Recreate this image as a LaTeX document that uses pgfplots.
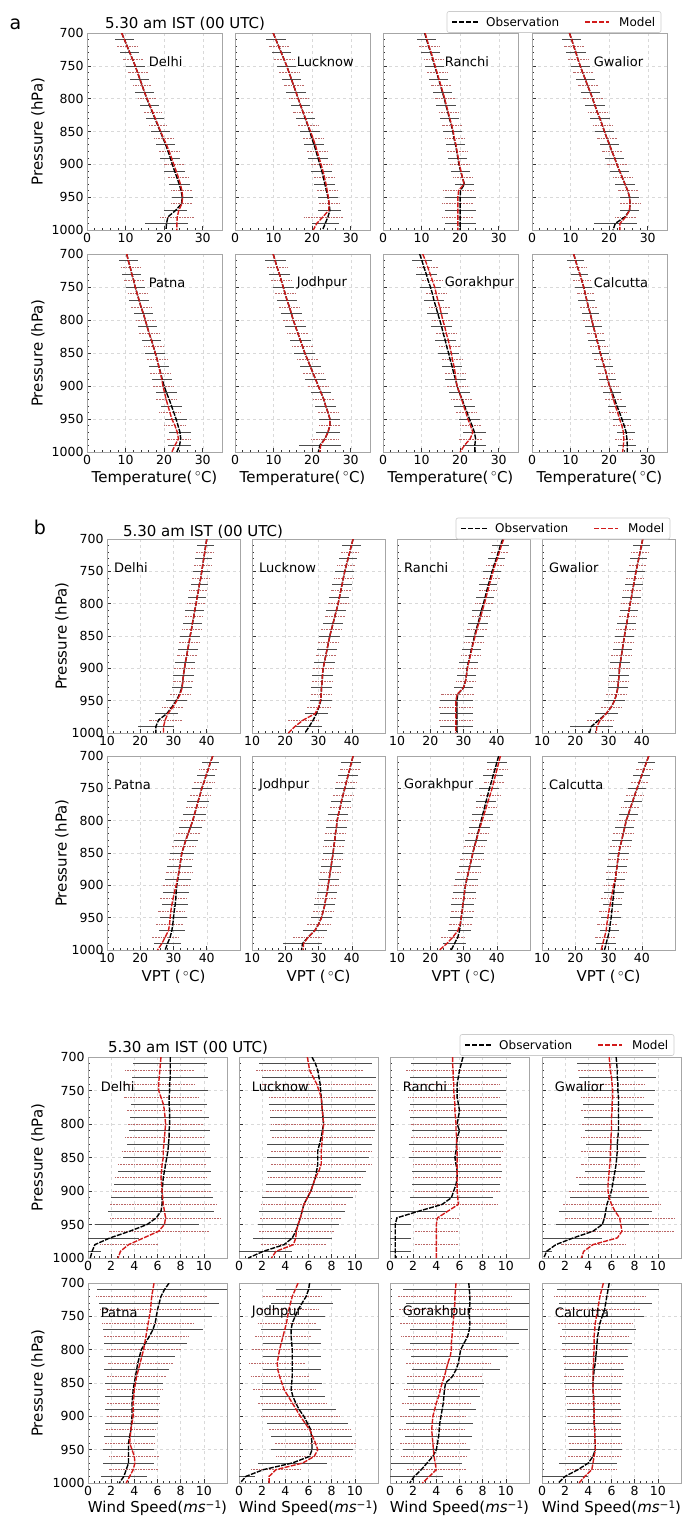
\documentclass[border=0pt]{standalone}
\usepackage{fontspec}
\setmainfont{DejaVu Sans}
\usepackage{pgfplots}
\usepackage{pgfplotstable}
\pgfplotsset{compat=1.18}
\definecolor{mred}{HTML}{D21A1A}

% ---------------- Temperature ----------------
\pgfplotstableread{
p o oe m me
700 9.0 2.5 9.0 2.5
710 9.7 2.5 9.7 2.5
720 10.4 2.5 10.4 2.5
730 11.1 2.5 11.1 2.5
740 11.8 2.5 11.8 2.5
750 12.5 2.5 12.5 2.5
760 13.1 2.5 13.1 2.5
770 13.7 2.5 13.7 2.5
780 14.3 2.4 14.3 2.4
790 14.9 2.4 14.9 2.4
800 15.5 2.4 15.6 2.4
810 16.2 2.4 16.3 2.4
820 16.9 2.4 17.0 2.4
830 17.6 2.4 17.7 2.4
840 18.3 2.4 18.4 2.4
850 19.0 2.5 19.1 2.5
860 19.7 2.5 19.8 2.5
870 20.4 2.5 20.6 2.5
880 21.0 2.6 21.3 2.6
890 21.6 2.6 21.9 2.6
900 22.1 2.6 22.5 2.6
910 22.7 2.7 23.1 2.7
920 23.3 2.7 23.7 2.7
930 23.9 2.7 24.2 2.7
940 24.4 2.7 24.6 2.7
950 24.7 2.7 24.8 2.7
960 24.5 2.8 24.6 2.8
970 23.0 3.0 23.8 3.5
980 21.0 5.5 23.4 4.5
990 20.6 5.5 23.3 4.5
1000 20.5 5.0 23.3 4.5
}\taDel
\pgfplotstableread{
p o oe m me
700 9.9 2.5 9.9 2.5
710 10.6 2.5 10.6 2.5
720 11.3 2.5 11.3 2.5
730 12.0 2.5 12.0 2.5
740 12.7 2.5 12.7 2.5
750 13.4 2.5 13.4 2.5
760 14.0 2.5 14.0 2.5
770 14.6 2.5 14.6 2.5
780 15.2 2.5 15.2 2.5
790 15.8 2.5 15.8 2.5
800 16.4 2.5 16.4 2.5
810 17.0 2.5 17.0 2.5
820 17.6 2.5 17.6 2.5
830 18.2 2.5 18.3 2.5
840 18.8 2.5 18.9 2.5
850 19.4 2.6 19.6 2.6
860 19.9 2.6 20.2 2.6
870 20.5 2.6 20.8 2.6
880 21.0 2.6 21.3 2.6
890 21.5 2.6 21.8 2.6
900 22.0 2.7 22.3 2.7
910 22.5 2.7 22.8 2.7
920 22.9 2.7 23.2 2.7
930 23.3 2.7 23.6 2.7
940 23.7 2.7 23.9 2.7
950 24.1 2.7 24.2 2.7
960 24.4 2.8 24.4 2.8
970 24.6 3.0 24.3 3.2
980 24.1 3.5 22.8 5.0
990 23.4 3.5 21.2 5.0
1000 22.7 3.5 20.3 4.5
}\taLuc
\pgfplotstableread{
p o oe m me
700 10.8 2.5 10.9 2.5
710 11.3 2.5 11.4 2.5
720 11.8 2.5 11.9 2.5
730 12.4 2.5 12.5 2.5
740 12.9 2.5 13.0 2.5
750 13.4 2.5 13.5 2.5
760 13.9 2.5 14.0 2.5
770 14.4 2.5 14.5 2.5
780 14.9 2.5 15.0 2.5
790 15.4 2.5 15.5 2.5
800 15.9 2.5 16.0 2.5
810 16.3 2.5 16.4 2.5
820 16.8 2.5 16.9 2.5
830 17.2 2.5 17.3 2.5
840 17.7 2.5 17.8 2.5
850 18.1 2.5 18.2 2.5
860 18.4 2.5 18.5 2.5
870 18.8 2.5 18.9 2.5
880 19.1 2.5 19.2 2.5
890 19.4 2.5 19.5 2.5
900 19.7 2.5 19.8 2.5
910 20.1 2.5 20.2 2.5
920 20.6 2.5 20.6 2.5
930 21.1 2.5 21.0 2.5
940 20.1 4.0 19.6 4.0
950 20.0 4.0 19.4 4.0
960 20.0 4.0 19.4 4.0
970 20.0 4.0 19.4 4.0
980 20.0 4.0 19.4 4.0
990 20.0 4.0 19.4 4.0
1000 20.0 4.0 19.4 4.0
}\taRan
\pgfplotstableread{
p o oe m me
700 9.7 2.5 9.7 2.5
710 10.3 2.5 10.3 2.5
720 10.8 2.5 10.8 2.5
730 11.4 2.5 11.4 2.5
740 11.9 2.5 11.9 2.5
750 12.5 2.5 12.5 2.5
760 13.1 2.5 13.1 2.5
770 13.8 2.5 13.8 2.5
780 14.4 2.5 14.4 2.5
790 15.1 2.5 15.1 2.5
800 15.7 2.5 15.7 2.5
810 16.3 2.5 16.3 2.5
820 16.9 2.5 16.9 2.5
830 17.6 2.5 17.6 2.5
840 18.2 2.5 18.2 2.5
850 18.8 2.5 18.8 2.5
860 19.4 2.5 19.4 2.5
870 20.1 2.5 20.1 2.5
880 20.7 2.5 20.7 2.5
890 21.4 2.5 21.4 2.5
900 22.0 2.5 22.0 2.5
910 22.7 2.5 22.7 2.5
920 23.4 2.5 23.4 2.5
930 24.1 2.5 24.1 2.5
940 24.8 2.5 24.8 2.5
950 25.3 2.5 25.3 2.5
960 25.4 2.5 25.4 2.5
970 25.3 2.5 25.3 2.5
980 24.1 3.0 24.3 2.8
990 21.6 5.5 22.8 4.0
1000 21.0 5.0 22.8 4.0
}\taGwa
\pgfplotstableread{
p o oe m me
700 10.3 2.5 10.3 2.5
710 10.7 2.5 10.7 2.5
720 11.2 2.5 11.2 2.5
730 11.6 2.5 11.6 2.5
740 12.1 2.5 12.1 2.5
750 12.5 2.5 12.5 2.5
760 13.0 2.5 13.0 2.5
770 13.5 2.5 13.5 2.5
780 14.0 2.5 14.0 2.5
790 14.6 2.5 14.6 2.5
800 15.1 2.5 15.1 2.5
810 15.6 2.5 15.6 2.5
820 16.1 2.5 16.1 2.5
830 16.7 2.5 16.7 2.5
840 17.2 2.5 17.2 2.5
850 17.7 2.6 17.7 2.6
860 18.2 2.6 18.2 2.6
870 18.6 2.6 18.6 2.6
880 19.1 2.6 19.0 2.6
890 19.5 2.6 19.4 2.6
900 20.0 2.7 19.7 2.7
910 20.6 2.7 20.1 2.7
920 21.3 2.7 20.5 2.7
930 21.9 2.8 21.0 2.8
940 22.5 2.8 21.5 2.8
950 23.1 2.8 22.0 2.8
960 23.6 2.9 22.8 2.9
970 24.1 2.9 23.4 2.9
980 24.3 3.0 23.7 3.0
990 24.0 3.0 22.8 3.2
1000 23.3 3.0 22.0 3.2
}\taPat
\pgfplotstableread{
p o oe m me
700 9.9 2.7 9.9 2.7
710 10.4 2.7 10.4 2.7
720 10.9 2.7 10.9 2.7
730 11.5 2.7 11.5 2.7
740 12.0 2.7 12.0 2.7
750 12.5 2.7 12.5 2.7
760 13.0 2.7 13.0 2.7
770 13.5 2.7 13.5 2.7
780 14.1 2.7 14.1 2.7
790 14.6 2.7 14.6 2.7
800 15.1 2.7 15.1 2.7
810 15.7 2.7 15.7 2.7
820 16.3 2.7 16.3 2.7
830 16.9 2.7 16.9 2.7
840 17.5 2.7 17.5 2.7
850 18.1 2.7 18.1 2.7
860 18.8 2.7 18.8 2.7
870 19.5 2.7 19.5 2.7
880 20.2 2.7 20.2 2.7
890 20.9 2.7 20.9 2.7
900 21.6 2.7 21.6 2.7
910 22.3 2.7 22.3 2.7
920 23.0 2.7 23.0 2.7
930 23.5 2.7 23.5 2.7
940 24.1 2.7 24.1 2.7
950 24.6 2.7 24.6 2.7
960 24.6 2.7 24.6 2.7
970 24.1 3.0 24.1 3.0
980 23.3 3.5 23.3 3.5
990 22.0 5.5 22.2 4.5
1000 21.6 5.0 22.0 4.5
}\taJod
\pgfplotstableread{
p o oe m me
700 9.5 2.7 10.3 2.7
710 10.1 2.7 11.0 2.7
720 10.6 2.7 11.6 2.7
730 11.2 2.7 12.2 2.7
740 11.7 2.7 12.8 2.7
750 12.3 2.7 13.4 2.7
760 12.8 2.7 13.8 2.7
770 13.2 2.7 14.2 2.7
780 13.7 2.7 14.7 2.7
790 14.2 2.7 15.1 2.7
800 14.7 2.7 15.5 2.7
810 15.2 2.7 16.0 2.7
820 15.6 2.7 16.4 2.7
830 16.1 2.7 16.9 2.7
840 16.5 2.7 17.3 2.7
850 17.0 2.7 17.7 2.7
860 17.4 2.7 18.0 2.7
870 17.9 2.7 18.4 2.7
880 18.3 2.7 18.7 2.7
890 18.8 2.7 18.9 2.7
900 19.2 2.7 19.2 2.7
910 19.8 2.7 19.8 2.7
920 20.5 2.7 20.4 2.7
930 21.1 2.7 20.9 2.7
940 21.8 2.7 21.5 2.7
950 22.4 2.8 22.0 2.8
960 23.1 2.9 22.7 2.9
970 23.7 3.0 23.3 3.0
980 24.0 3.0 22.6 3.0
990 23.8 3.0 21.1 3.0
1000 23.8 3.0 20.0 3.0
}\taGor
\pgfplotstableread{
p o oe m me
700 10.8 2.2 10.8 2.2
710 11.3 2.2 11.3 2.2
720 11.8 2.2 11.8 2.2
730 12.4 2.2 12.4 2.2
740 12.9 2.2 12.9 2.2
750 13.4 2.2 13.4 2.2
760 13.8 2.2 13.8 2.2
770 14.2 2.2 14.2 2.2
780 14.6 2.2 14.6 2.2
790 15.1 2.2 15.1 2.2
800 15.5 2.2 15.5 2.2
810 15.9 2.2 15.9 2.2
820 16.4 2.2 16.4 2.2
830 16.8 2.2 16.8 2.2
840 17.3 2.2 17.3 2.2
850 17.7 2.2 17.7 2.2
860 18.2 2.2 18.2 2.2
870 18.7 2.2 18.7 2.2
880 19.2 2.2 19.2 2.2
890 19.6 2.2 19.6 2.2
900 20.1 2.3 20.1 2.3
910 20.8 2.3 20.6 2.3
920 21.4 2.3 21.1 2.3
930 22.0 2.3 21.6 2.3
940 22.7 2.3 22.2 2.3
950 23.3 2.3 22.7 2.3
960 23.9 2.3 23.3 2.3
970 24.4 2.3 23.7 2.3
980 24.6 2.3 23.8 2.3
990 24.7 2.3 23.7 2.3
1000 24.7 2.3 23.5 2.3
}\taCal

% ---------------- VPT ----------------
\pgfplotstableread{
p o oe m me
700 40.0 2.5 40.0 2.5
710 39.7 2.5 39.7 2.5
720 39.4 2.5 39.4 2.5
730 39.1 2.5 39.1 2.5
740 38.8 2.5 38.8 2.5
750 38.5 2.6 38.5 2.6
760 38.2 2.6 38.2 2.6
770 37.8 2.6 37.8 2.6
780 37.5 2.7 37.5 2.7
790 37.1 2.7 37.1 2.7
800 36.8 2.7 36.8 2.7
810 36.4 2.8 36.4 2.8
820 36.1 2.8 36.1 2.8
830 35.7 2.8 35.7 2.8
840 35.4 2.9 35.4 2.9
850 35.0 2.9 35.0 2.9
860 34.7 2.9 34.7 2.9
870 34.3 3.0 34.3 3.0
880 34.0 3.0 34.0 3.0
890 33.6 3.0 33.6 3.0
900 33.3 3.1 33.3 3.1
910 33.0 3.1 33.0 3.1
920 32.8 3.1 32.8 3.1
930 32.5 3.1 32.6 3.1
940 31.8 3.2 32.0 3.2
950 30.8 3.2 31.0 3.2
960 29.5 3.3 29.8 3.3
970 28.0 3.5 28.3 3.5
980 25.5 5.5 27.5 5.0
990 24.7 5.5 27.0 5.0
1000 24.7 5.0 27.0 4.5
}\tbDel
\pgfplotstableread{
p o oe m me
700 40.4 2.8 40.4 2.8
710 39.9 2.8 39.9 2.8
720 39.4 2.8 39.4 2.8
730 38.9 2.8 38.9 2.8
740 38.4 2.8 38.4 2.8
750 37.9 2.9 37.9 2.9
760 37.5 2.9 37.5 2.9
770 37.1 2.9 37.1 2.9
780 36.7 2.9 36.7 2.9
790 36.3 3.0 36.3 3.0
800 35.9 3.0 35.9 3.0
810 35.4 3.0 35.4 3.0
820 34.9 3.0 34.9 3.0
830 34.4 3.0 34.4 3.0
840 33.9 3.0 33.9 3.0
850 33.4 3.1 33.4 3.1
860 33.0 3.1 33.0 3.1
870 32.6 3.1 32.6 3.1
880 32.2 3.1 32.2 3.1
890 31.8 3.2 31.8 3.2
900 31.4 3.2 31.4 3.2
910 31.2 3.2 31.2 3.2
920 31.1 3.2 31.1 3.2
930 30.9 3.3 30.9 3.3
940 30.8 3.3 30.8 3.3
950 30.7 3.3 30.6 3.3
960 30.1 3.4 30.0 3.4
970 29.4 3.5 29.0 3.8
980 28.4 3.8 25.4 4.5
990 27.2 4.0 22.9 4.5
1000 25.9 4.0 20.9 4.5
}\tbLuc
\pgfplotstableread{
p o oe m me
700 41.8 2.5 42.1 2.5
710 41.1 2.5 41.4 2.5
720 40.5 2.5 40.8 2.5
730 39.9 2.5 40.2 2.5
740 39.2 2.6 39.5 2.6
750 38.6 2.6 38.9 2.6
760 38.1 2.6 38.4 2.6
770 37.5 2.7 37.8 2.7
780 37.0 2.7 37.3 2.7
790 36.5 2.7 36.8 2.7
800 36.0 2.8 36.3 2.8
810 35.4 2.8 35.7 2.8
820 34.9 2.8 35.2 2.8
830 34.4 2.9 34.6 2.9
840 33.8 2.9 34.0 2.9
850 33.3 2.9 33.5 2.9
860 32.9 3.0 33.0 3.0
870 32.4 3.0 32.5 3.0
880 32.0 3.0 32.1 3.0
890 31.5 3.0 31.6 3.0
900 31.1 3.0 31.2 3.0
910 30.9 3.0 30.9 3.0
920 30.6 3.0 30.6 3.0
930 30.0 3.0 30.0 3.0
940 28.3 5.0 28.1 5.0
950 28.0 5.0 27.7 5.0
960 28.0 5.0 27.7 5.0
970 28.0 5.0 27.7 5.0
980 28.0 5.0 27.7 5.0
990 28.0 5.0 27.7 5.0
1000 28.0 5.0 27.7 5.0
}\tbRan
\pgfplotstableread{
p o oe m me
700 40.3 2.6 40.3 2.6
710 39.9 2.6 39.9 2.6
720 39.5 2.6 39.5 2.6
730 39.1 2.6 39.1 2.6
740 38.7 2.6 38.7 2.6
750 38.3 2.7 38.3 2.7
760 37.9 2.7 37.9 2.7
770 37.6 2.7 37.6 2.7
780 37.2 2.7 37.2 2.7
790 36.9 2.8 36.9 2.8
800 36.5 2.8 36.5 2.8
810 36.2 2.8 36.2 2.8
820 35.8 2.8 35.8 2.8
830 35.5 2.8 35.5 2.8
840 35.1 2.9 35.1 2.9
850 34.8 2.9 34.8 2.9
860 34.5 2.9 34.5 2.9
870 34.2 2.9 34.2 2.9
880 33.9 3.0 33.9 3.0
890 33.6 3.0 33.6 3.0
900 33.3 3.0 33.3 3.0
910 33.2 3.0 33.2 3.0
920 33.0 3.1 33.0 3.1
930 32.8 3.1 32.8 3.1
940 32.4 3.1 32.4 3.1
950 31.8 3.2 31.8 3.2
960 30.8 3.3 30.8 3.3
970 29.3 3.5 29.3 3.5
980 27.1 4.5 27.5 4.0
990 24.8 6.5 26.5 5.0
1000 24.3 6.0 26.3 5.0
}\tbGwa
\pgfplotstableread{
p o oe m me
700 41.8 2.5 41.8 2.5
710 41.1 2.6 41.1 2.6
720 40.5 2.7 40.5 2.7
730 39.8 2.8 39.8 2.8
740 39.2 2.9 39.2 2.9
750 38.5 3.0 38.5 3.0
760 38.0 3.1 38.0 3.1
770 37.4 3.2 37.4 3.2
780 36.9 3.3 36.9 3.3
790 36.3 3.4 36.3 3.4
800 35.8 3.5 35.8 3.5
810 35.1 3.5 35.1 3.5
820 34.4 3.6 34.4 3.6
830 33.7 3.6 33.7 3.6
840 33.1 3.7 33.1 3.7
850 32.5 3.7 32.5 3.7
860 32.2 3.8 32.2 3.8
870 31.9 3.8 31.9 3.8
880 31.6 3.9 31.6 3.9
890 31.3 3.9 31.2 3.9
900 31.0 4.0 30.8 4.0
910 30.8 4.0 30.3 4.0
920 30.7 4.0 29.9 4.0
930 30.5 4.0 29.5 4.0
940 30.2 4.0 29.2 4.0
950 30.0 4.0 29.0 4.0
960 29.8 4.0 28.8 4.0
970 29.5 4.0 28.5 4.0
980 29.0 4.0 27.5 4.0
990 28.2 4.0 26.5 4.0
1000 27.5 4.0 25.2 4.0
}\tbPat
\pgfplotstableread{
p o oe m me
700 40.4 3.0 40.4 3.0
710 39.9 3.0 39.9 3.0
720 39.4 3.0 39.4 3.0
730 38.9 3.0 38.9 3.0
740 38.4 3.0 38.4 3.0
750 37.9 3.0 37.9 3.0
760 37.4 3.0 37.4 3.0
770 36.9 3.0 36.9 3.0
780 36.5 3.0 36.5 3.0
790 36.0 3.0 36.0 3.0
800 35.6 3.1 35.6 3.1
810 35.4 3.1 35.4 3.1
820 35.1 3.1 35.1 3.1
830 34.9 3.1 34.9 3.1
840 34.6 3.1 34.6 3.1
850 34.4 3.1 34.4 3.1
860 34.1 3.1 34.1 3.1
870 33.8 3.1 33.8 3.1
880 33.5 3.1 33.5 3.1
890 33.2 3.1 33.2 3.1
900 32.9 3.1 32.9 3.1
910 32.6 3.1 32.6 3.1
920 32.2 3.2 32.2 3.2
930 31.9 3.2 31.9 3.2
940 31.4 3.2 31.4 3.2
950 30.9 3.3 30.9 3.3
960 30.0 3.4 30.0 3.4
970 28.9 3.6 28.9 3.6
980 26.9 4.5 26.9 4.5
990 25.2 6.0 25.5 5.5
1000 24.9 6.0 25.4 5.5
}\tbJod
\pgfplotstableread{
p o oe m me
700 40.6 3.0 41.1 3.0
710 40.0 3.0 40.6 3.0
720 39.5 3.0 40.1 3.0
730 38.9 3.0 39.6 3.0
740 38.4 3.0 39.1 3.0
750 37.8 3.0 38.6 3.0
760 37.3 3.1 38.0 3.1
770 36.8 3.1 37.4 3.1
780 36.3 3.1 36.8 3.1
790 35.8 3.2 36.2 3.2
800 35.3 3.2 35.6 3.2
810 34.8 3.2 35.0 3.2
820 34.3 3.3 34.4 3.3
830 33.8 3.3 33.9 3.3
840 33.3 3.3 33.3 3.3
850 32.8 3.4 32.8 3.4
860 32.4 3.4 32.4 3.4
870 31.9 3.4 31.9 3.4
880 31.5 3.4 31.5 3.4
890 31.0 3.5 31.0 3.5
900 30.6 3.5 30.6 3.5
910 30.3 3.5 30.3 3.5
920 30.1 3.5 30.1 3.5
930 29.8 3.5 29.8 3.5
940 29.6 3.5 29.6 3.5
950 29.3 3.5 29.3 3.5
960 29.1 3.5 29.0 3.5
970 28.8 3.5 28.3 3.6
980 28.3 3.5 26.8 3.8
990 27.3 3.5 25.0 4.0
1000 26.3 3.5 22.8 4.0
}\tbGor
\pgfplotstableread{
p o oe m me
700 42.1 2.5 42.1 2.5
710 41.4 2.5 41.4 2.5
720 40.7 2.5 40.7 2.5
730 40.0 2.5 40.0 2.5
740 39.3 2.6 39.3 2.6
750 38.6 2.6 38.6 2.6
760 37.9 2.6 37.9 2.6
770 37.3 2.7 37.3 2.7
780 36.6 2.7 36.6 2.7
790 36.0 2.8 36.0 2.8
800 35.3 2.8 35.3 2.8
810 34.9 2.9 34.9 2.9
820 34.4 2.9 34.4 2.9
830 34.0 3.0 34.0 3.0
840 33.5 3.0 33.5 3.0
850 33.1 3.0 33.1 3.0
860 32.8 3.0 32.8 3.0
870 32.6 3.0 32.6 3.0
880 32.3 3.0 32.3 3.0
890 32.1 3.0 32.1 3.0
900 31.8 3.0 31.5 3.0
910 31.6 3.0 31.2 3.0
920 31.4 3.0 30.8 3.0
930 31.2 3.0 30.5 3.0
940 31.0 3.0 30.1 3.0
950 30.8 3.0 29.8 3.0
960 30.5 3.0 29.5 3.0
970 30.3 3.0 29.3 3.0
980 29.8 3.0 28.8 3.0
990 29.3 3.0 28.3 3.0
1000 28.8 3.0 27.8 3.0
}\tbCal

% ---------------- Wind speed ----------------
\pgfplotstableread{
p o oe m me
700 7.1 3.2 6.3 3.0
710 7.1 3.2 6.25 3.0
720 7.1 3.2 6.2 3.0
730 7.1 3.3 6.15 3.1
740 7.05 3.3 6.1 3.1
750 7.05 3.3 6.1 3.1
760 7.0 3.3 6.3 3.2
770 7.0 3.3 6.5 3.2
780 7.05 3.4 6.6 3.3
790 7.05 3.4 6.65 3.3
800 7.05 3.4 6.7 3.3
810 7.0 3.5 6.65 3.4
820 7.0 3.5 6.6 3.4
830 6.95 3.6 6.55 3.5
840 6.9 3.7 6.5 3.6
850 6.8 3.8 6.5 3.7
860 6.7 3.9 6.4 3.8
870 6.6 4.0 6.35 3.9
880 6.5 4.1 6.3 4.0
890 6.45 4.2 6.35 4.1
900 6.4 4.3 6.4 4.2
910 6.4 4.4 6.45 4.4
920 6.4 4.5 6.5 4.6
930 6.3 4.6 6.6 4.8
940 5.9 4.6 6.7 4.8
950 5.1 4.5 6.6 4.6
960 3.6 3.8 6.1 4.3
970 1.9 2.5 4.8 3.8
980 0.6 1.2 3.5 2.5
990 0.35 0.8 2.8 1.5
1000 0.2 0.5 2.6 1.2
}\tcDel
\pgfplotstableread{
p o oe m me
700 6.3 4.8 5.9 4.5
710 6.6 4.9 6.0 4.6
720 6.8 4.9 6.1 4.6
730 6.9 4.9 6.4 4.7
740 7.0 4.9 6.7 4.7
750 7.05 4.8 6.9 4.6
760 7.1 4.7 7.1 4.5
770 7.15 4.6 7.15 4.5
780 7.2 4.6 7.2 4.5
790 7.25 4.6 7.25 4.5
800 7.3 4.6 7.3 4.5
810 7.2 4.5 7.25 4.4
820 7.1 4.5 7.2 4.4
830 6.95 4.5 7.15 4.4
840 6.8 4.4 7.1 4.3
850 6.8 4.4 7.1 4.3
860 6.8 4.3 7.1 4.3
870 6.7 4.3 6.9 4.2
880 6.6 4.2 6.6 4.1
890 6.4 4.1 6.4 4.0
900 6.2 4.0 6.2 3.9
910 5.9 3.9 5.9 3.8
920 5.6 3.8 5.6 3.7
930 5.45 3.7 5.45 3.6
940 5.3 3.6 5.3 3.5
950 5.1 3.5 5.1 3.4
960 4.9 3.4 4.95 3.3
970 4.6 3.4 4.9 3.2
980 3.9 3.2 4.7 2.8
990 2.1 2.5 3.2 2.0
1000 0.8 1.0 2.8 1.0
}\tcLuc
\pgfplotstableread{
p o oe m me
700 6.3 4.3 5.4 4.1
710 6.15 4.3 5.4 4.1
720 6.0 4.3 5.45 4.1
730 5.9 4.2 5.45 4.0
740 5.8 4.2 5.5 4.0
750 5.8 4.2 5.5 4.0
760 5.8 4.2 5.55 4.0
770 5.9 4.2 5.6 4.0
780 6.0 4.2 5.6 4.0
790 5.9 4.2 5.65 4.0
800 5.8 4.1 5.7 3.9
810 6.0 4.1 5.7 3.9
820 5.8 4.1 5.75 3.9
830 5.75 4.1 5.75 3.9
840 5.7 4.0 5.8 3.9
850 5.6 4.0 5.8 3.9
860 5.7 4.0 5.8 3.8
870 5.8 3.9 5.8 3.8
880 5.8 3.9 5.8 3.8
890 5.7 3.8 5.8 3.7
900 5.5 3.8 5.8 3.7
910 5.3 3.6 5.85 3.6
920 4.5 3.0 5.9 3.4
930 2.5 2.5 5.0 2.8
940 0.6 1.4 4.1 1.8
950 0.45 1.4 4.0 1.8
960 0.45 1.4 4.0 1.8
970 0.45 1.4 4.0 1.8
980 0.45 1.4 4.0 1.8
990 0.45 1.4 4.0 1.8
1000 0.45 1.4 4.0 1.8
}\tcRan
\pgfplotstableread{
p o oe m me
700 6.4 3.4 5.8 2.8
710 6.45 3.4 5.85 2.8
720 6.5 3.4 5.9 2.8
730 6.5 3.3 6.0 2.8
740 6.55 3.3 6.05 2.8
750 6.55 3.2 6.1 2.7
760 6.6 3.2 6.1 2.7
770 6.6 3.1 6.05 2.7
780 6.6 3.1 6.05 2.7
790 6.6 3.0 6.0 2.6
800 6.6 3.0 6.0 2.6
810 6.6 2.9 6.0 2.6
820 6.55 2.8 5.95 2.6
830 6.5 2.7 5.95 2.5
840 6.5 2.6 5.9 2.5
850 6.45 2.5 5.9 2.5
860 6.4 2.5 5.85 2.5
870 6.3 2.6 5.8 2.6
880 6.2 2.7 5.75 2.8
890 6.1 2.9 5.7 3.1
900 6.0 3.1 5.7 3.4
910 5.8 3.4 5.8 3.8
920 5.6 3.7 6.0 4.2
930 5.5 4.0 6.3 4.5
940 5.4 4.0 6.7 4.7
950 5.2 4.0 6.8 4.8
960 4.4 3.5 6.9 4.5
970 2.7 2.5 6.5 3.8
980 1.2 1.2 4.4 2.8
990 0.4 0.5 3.6 1.5
1000 0.15 0.3 3.4 1.2
}\tcGwa
\pgfplotstableread{
p o oe m me
700 7.0 6.0 5.7 5.0
710 6.6 5.8 5.6 4.9
720 6.3 5.5 5.5 4.8
730 6.15 5.2 5.45 4.6
740 6.0 5.0 5.4 4.4
750 5.9 4.8 5.3 4.2
760 5.8 4.6 5.2 4.0
770 5.6 4.3 5.1 3.8
780 5.3 4.0 5.0 3.6
790 4.95 3.6 4.9 3.4
800 4.6 3.3 4.8 3.2
810 4.45 3.1 4.65 3.0
820 4.3 2.9 4.5 2.8
830 4.2 2.8 4.35 2.7
840 4.1 2.6 4.2 2.6
850 4.0 2.5 4.1 2.5
860 3.9 2.4 4.0 2.4
870 3.85 2.4 3.95 2.4
880 3.8 2.3 3.9 2.3
890 3.8 2.3 3.9 2.3
900 3.8 2.3 3.9 2.3
910 3.75 2.3 3.8 2.3
920 3.7 2.2 3.7 2.2
930 3.6 2.2 3.65 2.2
940 3.5 2.2 3.6 2.2
950 3.5 2.2 3.8 2.2
960 3.5 2.2 4.0 2.2
970 3.5 2.2 4.05 2.2
980 3.3 2.1 3.9 2.1
990 3.1 2.0 3.6 2.0
1000 2.7 1.8 3.3 1.8
}\tcPat
\pgfplotstableread{
p o oe m me
700 6.1 2.8 5.1 2.5
710 6.0 2.8 4.85 2.5
720 5.8 2.8 4.6 2.5
730 5.45 2.7 4.45 2.5
740 5.1 2.7 4.3 2.5
750 4.85 2.6 4.2 2.5
760 4.6 2.6 4.1 2.5
770 4.5 2.6 3.95 2.5
780 4.5 2.5 3.8 2.4
790 4.55 2.5 3.65 2.4
800 4.6 2.5 3.5 2.4
810 4.6 2.5 3.4 2.4
820 4.6 2.5 3.3 2.4
830 4.6 2.5 3.35 2.4
840 4.6 2.6 3.5 2.5
850 4.55 2.6 3.7 2.6
860 4.5 2.7 3.9 2.7
870 4.65 2.8 4.25 2.8
880 4.9 3.0 4.6 3.0
890 5.2 3.2 4.95 3.2
900 5.6 3.4 5.3 3.4
910 5.9 3.5 5.7 3.5
920 6.2 3.5 6.1 3.5
930 6.25 3.5 6.35 3.5
940 6.3 3.5 6.6 3.5
950 6.3 3.5 6.8 3.5
960 6.1 3.3 6.5 3.3
970 4.6 3.0 5.5 3.0
980 2.1 2.5 3.2 2.2
990 0.6 0.8 2.6 1.2
1000 0.1 0.3 2.6 1.2
}\tcJod
\pgfplotstableread{
p o oe m me
700 6.8 5.8 5.7 5.0
710 6.85 5.7 5.65 5.0
720 6.9 5.6 5.6 4.9
730 6.9 5.5 5.6 4.8
740 6.85 5.4 5.55 4.8
750 6.85 5.3 5.5 4.7
760 6.9 5.3 5.45 4.6
770 6.85 5.1 5.4 4.5
780 6.7 5.0 5.35 4.4
790 6.4 4.7 5.3 4.2
800 6.1 4.4 5.3 4.0
810 6.0 4.2 5.2 3.8
820 5.9 4.0 5.0 3.6
830 5.7 3.8 4.85 3.4
840 5.4 3.5 4.7 3.3
850 4.8 3.3 4.5 3.2
860 4.7 3.2 4.35 3.1
870 4.65 3.1 4.2 3.0
880 4.6 3.0 4.0 3.0
890 4.5 2.9 3.85 2.9
900 4.4 2.9 3.7 2.9
910 4.3 2.9 3.65 2.9
920 4.25 2.9 3.6 2.9
930 4.2 2.9 3.65 2.9
940 4.1 2.9 3.7 2.9
950 4.0 2.9 3.75 2.9
960 3.7 2.9 3.8 2.9
970 3.2 3.0 3.9 2.8
980 2.7 3.0 4.0 2.6
990 2.1 2.5 3.4 2.2
1000 1.7 2.0 2.8 2.0
}\tcGor
\pgfplotstableread{
p o oe m me
700 5.8 4.4 5.3 4.2
710 5.7 4.4 5.15 4.2
720 5.6 4.2 5.0 4.0
730 5.5 4.0 4.9 3.8
740 5.4 3.8 4.8 3.6
750 5.2 3.6 4.7 3.4
760 5.0 3.4 4.6 3.2
770 4.9 3.2 4.55 3.1
780 4.8 3.1 4.5 3.0
790 4.75 3.0 4.5 2.9
800 4.7 2.9 4.5 2.8
810 4.65 2.8 4.45 2.7
820 4.6 2.7 4.45 2.6
830 4.5 2.6 4.4 2.5
840 4.45 2.5 4.4 2.5
850 4.4 2.5 4.4 2.4
860 4.4 2.4 4.4 2.4
870 4.45 2.4 4.45 2.4
880 4.45 2.3 4.45 2.3
890 4.5 2.3 4.5 2.3
900 4.5 2.3 4.5 2.3
910 4.5 2.3 4.5 2.3
920 4.55 2.3 4.55 2.3
930 4.55 2.3 4.55 2.3
940 4.6 2.3 4.6 2.3
950 4.6 2.3 4.6 2.3
960 4.4 2.4 4.5 2.3
970 4.0 2.5 4.4 2.3
980 3.1 2.5 4.3 2.2
990 2.0 2.0 3.7 2.0
1000 1.4 1.5 3.2 1.8
}\tcCal

\tikzset{
  obsline/.style={draw=black, line width=1.4pt, dash pattern=on 5pt off 1.3pt},
  modline/.style={draw=mred, line width=1.4pt, dash pattern=on 5pt off 1.3pt},
  legobs/.style={draw=black, line width=1.6pt, dash pattern=on 5pt off 2pt},
  legmod/.style={draw=mred, line width=1.6pt, dash pattern=on 5pt off 2pt},
}

\pgfplotsset{
  base/.style={
    scale only axis, anchor=north west,
    y dir=reverse, ymin=700, ymax=1000,
    ytick={700,750,800,850,900,950,1000}, minor y tick num=4,
    axis line style={black!35},
    tick align=inside, xtick pos=bottom, ytick pos=left,
    major tick length=4pt, minor tick length=2pt,
    tick style={black!80, line width=0.5pt},
    grid=major, major grid style={dashed, black!15, line width=0.4pt},
    tick label style={font=\fontsize{12.5}{12.5}\selectfont},
    /pgf/number format/assume math mode=true,
    /pgf/number format/set thousands separator={},
  },
  secA/.style={base, width=135pt, height=197pt, xmin=0, xmax=35, xtick={0,10,20,30}, minor x tick num=4},
  secA2/.style={secA, height=198pt},
  secB/.style={base, width=133pt, height=194pt, xmin=10, xmax=50, xtick={10,20,30,40}, minor x tick num=4},
  secC/.style={base, width=139pt, height=201pt, xmin=0, xmax=12, xtick={0,2,4,6,8,10}, minor x tick num=3},
  secC2/.style={secC, height=200pt},
  noylab/.style={yticklabels={}},
  obsbar/.style={draw=none, mark=none, restrict y to domain=705:995,
    x filter/.expression={mod(\coordindex,2)==1 ? x : nan},
    error bars/.cd, x dir=both, x explicit, error mark=none,
    error bar style={draw=black!70, line width=0.5pt, solid}},
  modbar/.style={draw=none, mark=none, restrict y to domain=705:995,
    x filter/.expression={mod(\coordindex,2)==0 ? x : nan},
    error bars/.cd, x dir=both, x explicit, error mark=none,
    error bar style={draw=red!55!black!60, line width=0.6pt, dash pattern=on 1pt off 0.6pt}},
}

\newcommand{\panel}[5]{%
  \begin{axis}[#1, at={(#2)}]
    \addplot[forget plot, obsbar] table[x=o,y=p,x error=oe]{#3};
    \addplot[forget plot, modbar] table[x=m,y=p,x error=me]{#3};
    \addplot[forget plot, mark=none, obsline] table[x=o,y=p]{#3};
    \addplot[forget plot, mark=none, modline] table[x=m,y=p]{#3};
    \node[anchor=west, font=\fontsize{13}{13}\selectfont, inner sep=0pt] at (axis cs:#4,744) {#5};
  \end{axis}}

% legend box: #1 = left x, #2 = top y (pixels from top-left)
\newcommand{\legbox}[2]{%
  \begin{scope}[shift={(#1pt,-#2pt)}]
    \draw[black!20, line width=0.6pt, rounded corners=2pt, fill=white] (0pt,0pt) rectangle (214pt,-21pt);
    \draw[legobs] (5pt,-10.5pt) -- (31pt,-10.5pt);
    \node[anchor=west, font=\fontsize{12}{12}\selectfont, inner sep=0pt] at (39pt,-10.5pt) {Observation};
    \draw[legmod] (138pt,-10.5pt) -- (162pt,-10.5pt);
    \node[anchor=west, font=\fontsize{12}{12}\selectfont, inner sep=0pt] at (172pt,-10.5pt) {Model};
  \end{scope}}

\begin{document}
\begin{tikzpicture}
\useasboundingbox (0pt,0pt) rectangle (685pt,-1524pt);
% ---- a ----
\panel{secA}{87pt,-33pt}{\taDel}{16}{Delhi}
\panel{secA,noylab}{235pt,-33pt}{\taLuc}{16}{Lucknow}
\panel{secA,noylab}{383pt,-33pt}{\taRan}{16}{Ranchi}
\panel{secA,noylab}{532pt,-33pt}{\taGwa}{16}{Gwalior}
\panel{secA2}{87pt,-254pt}{\taPat}{16}{Patna}
\panel{secA2,noylab}{235pt,-254pt}{\taJod}{16}{Jodhpur}
\panel{secA2,noylab}{383pt,-254pt}{\taGor}{16}{Gorakhpur}
\panel{secA2,noylab}{532pt,-254pt}{\taCal}{16}{Calcutta}
% ---- b ----
\panel{secB}{107pt,-539pt}{\tbDel}{12.1}{Delhi}
\panel{secB,noylab}{252pt,-539pt}{\tbLuc}{12.1}{Lucknow}
\panel{secB,noylab}{397pt,-539pt}{\tbRan}{12.1}{Ranchi}
\panel{secB,noylab}{542pt,-539pt}{\tbGwa}{12.1}{Gwalior}
\panel{secB}{107pt,-756pt}{\tbPat}{12.1}{Patna}
\panel{secB,noylab}{252pt,-756pt}{\tbJod}{12.1}{Jodhpur}
\panel{secB,noylab}{397pt,-756pt}{\tbGor}{12.1}{Gorakhpur}
\panel{secB,noylab}{542pt,-756pt}{\tbCal}{12.1}{Calcutta}
% ---- c ----
\panel{secC}{88pt,-1057pt}{\tcDel}{1.1}{Delhi}
\panel{secC,noylab}{239pt,-1057pt}{\tcLuc}{1.1}{Lucknow}
\panel{secC,noylab}{390pt,-1057pt}{\tcRan}{1.1}{Ranchi}
\panel{secC,noylab}{542pt,-1057pt}{\tcGwa}{1.1}{Gwalior}
\panel{secC2}{88pt,-1283pt}{\tcPat}{1.1}{Patna}
\panel{secC2,noylab}{239pt,-1283pt}{\tcJod}{1.1}{Jodhpur}
\panel{secC2,noylab}{390pt,-1283pt}{\tcGor}{1.1}{Gorakhpur}
\panel{secC2,noylab}{542pt,-1283pt}{\tcCal}{1.1}{Calcutta}

% legends
\legbox{447}{11.5}
\legbox{456}{518}
\legbox{460}{1034.5}

% titles and letters
\node[font=\fontsize{19}{19}\selectfont] at (15.5pt,-24pt) {a};
\node[font=\fontsize{19}{19}\selectfont] at (40pt,-527pt) {b};
\node[font=\fontsize{15}{15}\selectfont] at (185pt,-24pt) {5.30 am IST (00 UTC)};
\node[font=\fontsize{15}{15}\selectfont] at (203pt,-532pt) {5.30 am IST (00 UTC)};
\node[font=\fontsize{15}{15}\selectfont] at (188pt,-1048pt) {5.30 am IST (00 UTC)};

% y labels
\node[rotate=90, font=\fontsize{15}{15}\selectfont] at (38pt,-131.5pt) {Pressure (hPa)};
\node[rotate=90, font=\fontsize{15}{15}\selectfont] at (38pt,-353pt) {Pressure (hPa)};
\node[rotate=90, font=\fontsize{15}{15}\selectfont] at (62pt,-636pt) {Pressure (hPa)};
\node[rotate=90, font=\fontsize{15}{15}\selectfont] at (62pt,-853pt) {Pressure (hPa)};
\node[rotate=90, font=\fontsize{15}{15}\selectfont] at (38pt,-1157.5pt) {Pressure (hPa)};
\node[rotate=90, font=\fontsize{15}{15}\selectfont] at (38pt,-1383pt) {Pressure (hPa)};

% x labels
\tikzset{xl/.style={font=\fontsize{15}{15}\selectfont, inner sep=0pt}}
\node[xl] at (154.5pt,-478pt) {Temperature(\,$^\circ$C)};
\node[xl] at (302.5pt,-478pt) {Temperature(\,$^\circ$C)};
\node[xl] at (450.5pt,-478pt) {Temperature(\,$^\circ$C)};
\node[xl] at (599.5pt,-478pt) {Temperature(\,$^\circ$C)};
\node[xl] at (173.5pt,-977pt) {VPT (\,$^\circ$C)};
\node[xl] at (318.5pt,-977pt) {VPT (\,$^\circ$C)};
\node[xl] at (463.5pt,-977pt) {VPT (\,$^\circ$C)};
\node[xl] at (608.5pt,-977pt) {VPT (\,$^\circ$C)};
\node[xl] at (157.5pt,-1508pt) {Wind Speed(\textit{ms}\raisebox{0.55ex}{\fontsize{10.5}{10.5}\selectfont −1})};
\node[xl] at (308.5pt,-1508pt) {Wind Speed(\textit{ms}\raisebox{0.55ex}{\fontsize{10.5}{10.5}\selectfont −1})};
\node[xl] at (459.5pt,-1508pt) {Wind Speed(\textit{ms}\raisebox{0.55ex}{\fontsize{10.5}{10.5}\selectfont −1})};
\node[xl] at (611.5pt,-1508pt) {Wind Speed(\textit{ms}\raisebox{0.55ex}{\fontsize{10.5}{10.5}\selectfont −1})};
\end{tikzpicture}
\end{document}
